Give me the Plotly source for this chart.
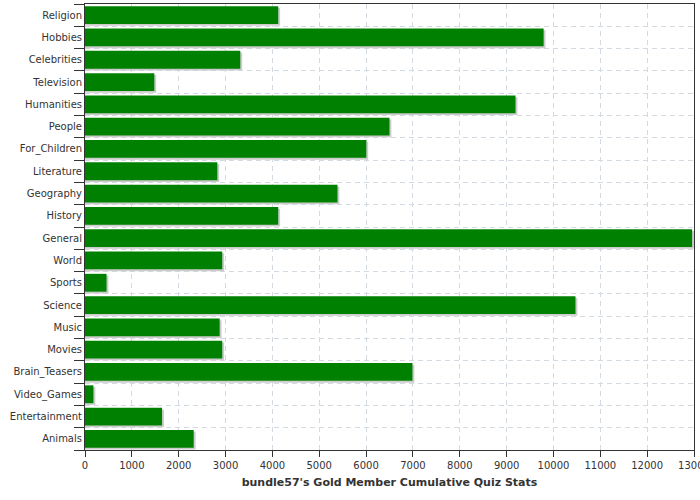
import plotly.graph_objects as go

categories = ["Religion", "Hobbies", "Celebrities", "Television", "Humanities", "People",
              "For_Children", "Literature", "Geography", "History", "General", "World",
              "Sports", "Science", "Music", "Movies", "Brain_Teasers", "Video_Games",
              "Entertainment", "Animals"]
values = [4125, 9790, 3315, 1480, 9190, 6500, 6005, 2825, 5390, 4125, 12960, 2930,
          460, 10470, 2875, 2930, 6990, 180, 1645, 2320]
x_ticks = list(range(0, 13001, 1000))
title_text = "bundle57's Gold Member Cumulative Quiz Stats"

# plot bottom-to-top so that the first category is at the top
cats = categories[::-1]
vals = values[::-1]

shadow_dx = 40  # small data-unit offset for drop shadow

fig = go.Figure()
fig.add_trace(go.Bar(
    y=cats, x=[v + shadow_dx for v in vals], orientation="h",
    width=0.8, offset=-0.48, marker=dict(color="#cccccc", line=dict(width=0)),
    hoverinfo="skip", showlegend=False,
))
fig.add_trace(go.Bar(
    y=cats, x=vals, orientation="h",
    width=0.8, offset=-0.4, marker=dict(color="#008000", line=dict(width=0)),
    showlegend=False,
))

fig.update_layout(
    width=700, height=500,
    margin=dict(l=85, r=6, t=4, b=50, autoexpand=False),
    paper_bgcolor="white", plot_bgcolor="white",
    barmode="overlay",
    font=dict(family="DejaVu Sans", size=10, color="#333333"),
    xaxis=dict(
        range=[0, 13000], tickvals=x_ticks, ticktext=[str(t) for t in x_ticks],
        ticks="outside", ticklen=6, tickcolor="#333333",
        showline=True, linecolor="#333333", linewidth=1, mirror=True,
        showgrid=True, gridcolor="#d3dae1", griddash="5px,4px", gridwidth=1,
        zeroline=False, automargin=False, ticklabeloverflow="allow",
        title=dict(text="<b>" + title_text + "</b>", font=dict(size=11, color="#333333"), standoff=8),
    ),
    yaxis=dict(
        categoryorder="array", categoryarray=cats,
        tickson="boundaries", ticks="outside", ticklen=10, tickcolor="#333333",
        showline=True, linecolor="#333333", linewidth=1, mirror=True,
        showgrid=True, gridcolor="#d3dae1", griddash="5px,4px", gridwidth=1,
        zeroline=False, automargin=False, range=[-0.5, len(cats) - 0.5],
    ),
)

fig.write_html("out.html", config={"displayModeBar": False},
               post_script="document.body.style.margin='0';")
